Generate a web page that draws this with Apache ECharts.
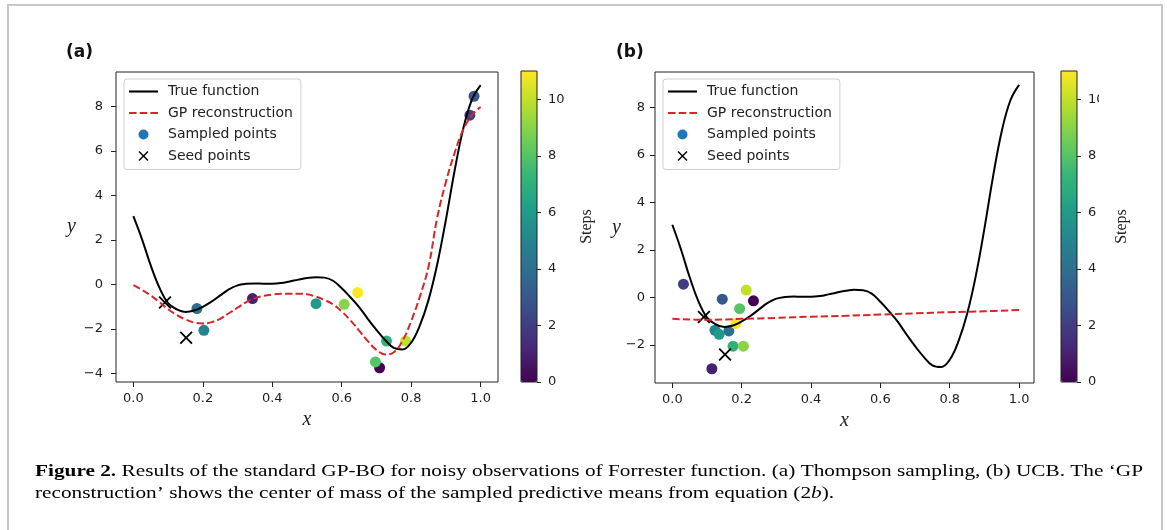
<!DOCTYPE html>
<html><head><meta charset="utf-8">
<script src="https://cdn.jsdelivr.net/npm/echarts@6/dist/echarts.min.js"></script>
<style>html,body{margin:0;padding:0;background:#fff;}#c{width:1167px;height:530px;}</style>
</head><body><div id="c"></div>
<script>
// ---------- data ----------
const xFine = [0,0.025,0.05,0.075,0.1,0.125,0.15,0.175,0.2,0.225,0.25,0.275,0.3,0.325,0.35,0.375,0.4,0.425,0.45,0.475,0.5,0.525,0.55,0.575,0.6,0.625,0.65,0.675,0.7,0.725,0.75,0.775,0.8,0.825,0.85,0.875,0.9,0.925,0.95,0.975,1.0];
const trueFn = [3.06,2.02,0.85,-0.15,-0.85,-1.13,-1.24,-1.18,-1.01,-0.78,-0.50,-0.23,-0.05,0.02,0.04,0.03,0.03,0.06,0.13,0.21,0.28,0.32,0.30,0.16,-0.18,-0.58,-1.02,-1.55,-2.05,-2.50,-2.86,-2.93,-2.62,-1.85,-0.70,0.90,2.90,5.10,7.00,8.30,8.95];
const gpA = [-0.04,-0.25,-0.50,-0.80,-1.12,-1.38,-1.58,-1.72,-1.76,-1.70,-1.55,-1.30,-1.05,-0.80,-0.63,-0.52,-0.46,-0.43,-0.42,-0.42,-0.45,-0.55,-0.70,-0.90,-1.22,-1.62,-2.08,-2.55,-2.95,-3.15,-3.05,-2.55,-1.65,-0.55,0.80,3.00,4.60,5.90,6.95,7.60,7.97];
const gpBx = [0,0.1,0.2,0.3,0.4,0.5,0.6,0.7,0.8,0.9,1.0];
const gpB = [-0.90,-0.94,-0.90,-0.86,-0.81,-0.77,-0.72,-0.67,-0.62,-0.58,-0.53];
// [x, y, step]
const sampledA = [[0.709,-3.75,0],[0.343,-0.64,1],[0.969,7.60,2],[0.981,8.45,3],[0.183,-1.09,4],[0.203,-2.07,5],[0.526,-0.87,6],[0.729,-2.55,7],[0.697,-3.49,8],[0.607,-0.90,9],[0.784,-2.55,10],[0.646,-0.37,11]];
const sampledB = [[0.234,-0.14,0],[0.114,-3.00,1],[0.032,0.56,2],[0.144,-0.07,3],[0.163,-1.41,4],[0.123,-1.38,5],[0.135,-1.55,6],[0.175,-2.05,7],[0.194,-0.47,8],[0.205,-2.05,9],[0.213,0.31,10],[0.183,-1.10,11]];
const seeds = [[0.091,-0.82],[0.152,-2.40]];
const xTicks = [0,0.2,0.4,0.6,0.8,1.0];
const yTicksA = [-4,-2,0,2,4,6,8];
const yTicksB = [-2,0,2,4,6,8];
const stepTicks = [0,2,4,6,8,10];
const stepRange = [0,11];
const viridis = ['#440154','#482878','#3e4989','#31688e','#26828e','#1f9e89','#35b779','#6ece58','#b5de2b','#fde725'];
const captionLine1 = ' Results of the standard GP-BO for noisy observations of Forrester function. (a) Thompson sampling, (b) UCB. The \u2018GP';
const captionLine2 = 'reconstruction\u2019 shows the center of mass of the sampled predictive means from equation (';

// ---------- chart ----------
const X_PATH = 'path://M10,0L50,40L90,0L100,10L60,50L100,90L90,100L50,60L10,100L0,90L40,50L0,10Z';
const LINE_ICON = 'path://M0,0H29V2.1H0Z';
const DASH_ICON = 'path://M0,0H7.6V2.1H0ZM10.7,0H18.3V2.1H10.7ZM21.4,0H29V2.1H21.4Z';
const TXT = '#1e1e1e';
const minus = v => (v < 0 ? '\u2212' + Math.abs(v) : String(v));

function xAxisCfg(gi, max){
  return {type:'value', gridIndex:gi, min:-0.05, max:max, splitLine:{show:false},
    axisLine:{show:false, onZero:false},
    axisTick:{show:true, length:5, lineStyle:{color:'#222'}, customValues:xTicks},
    axisLabel:{fontFamily:'DejaVu Sans', fontSize:13, color:TXT, margin:10, customValues:xTicks, formatter:v=>v.toFixed(1)},
    name:'x', nameLocation:'middle', nameGap:22,
    nameTextStyle:{fontFamily:'Liberation Serif', fontStyle:'italic', fontSize:20, color:'#222'}};
}
function yAxisCfg(gi, min, max, ticks, gap, margin){
  return {type:'value', gridIndex:gi, min:min, max:max, splitLine:{show:false},
    axisLine:{show:false, onZero:false},
    axisTick:{show:true, length:5, lineStyle:{color:'#222'}, customValues:ticks},
    axisLabel:{fontFamily:'DejaVu Sans', fontSize:13, color:TXT, margin:margin, customValues:ticks, formatter:minus},
    name:'y', nameLocation:'middle', nameGap:gap, nameRotate:0,
    nameTextStyle:{fontFamily:'Liberation Serif', fontStyle:'italic', fontSize:20, color:'#222'}};
}
function cbAxis(gi, gap){
  return {type:'value', gridIndex:gi, position:'right', min:stepRange[0], max:stepRange[1],
    splitLine:{show:false}, axisLine:{show:false, onZero:false},
    axisTick:{show:true, length:4, lineStyle:{color:'#222'}, customValues:stepTicks},
    axisLabel:{fontFamily:'DejaVu Sans', fontSize:13, color:TXT, margin:11, customValues:stepTicks},
    name:'Steps', nameLocation:'middle', nameGap:gap,
    nameTextStyle:{fontFamily:'Liberation Serif', fontSize:16, color:'#222'}};
}
const legendItems = [
  {name:'True function', icon:LINE_ICON, itemStyle:{color:'#000'}},
  {name:'GP reconstruction', icon:DASH_ICON, itemStyle:{color:'#d62728'}},
  {name:'Sampled points', icon:'circle', itemStyle:{color:'#1f77b4'}},
  {name:'Seed points', icon:X_PATH, itemStyle:{color:'#000'}}
];
function legendCfg(left){
  return {left:left, top:79, orient:'vertical', padding:[5,8,6,5], itemWidth:29, itemHeight:10, itemGap:6.5,
    backgroundColor:'rgba(255,255,255,0.85)', borderColor:'#cfcfcf', borderWidth:1, borderRadius:3,
    selectedMode:false, textStyle:{fontFamily:'DejaVu Sans', fontSize:14, color:'#222', lineHeight:15, padding:[0,0,0,5]},
    data:legendItems};
}
function lineSeries(name, xi, xs, ys, color, dashed){
  return {type:'line', name:name, xAxisIndex:xi, yAxisIndex:xi, data:xs.map((x,i)=>[x,ys[i]]),
    symbol:'none', showSymbol:false, smooth:0.4, z:3, silent:true,
    lineStyle:{color:color, width:2, type: dashed ? [7.4,3.2] : 'solid'}, itemStyle:{color:color}};
}
function scatterSeries(xi, pts){
  return {type:'scatter', name:'Sampled points', xAxisIndex:xi, yAxisIndex:xi, data:pts, symbolSize:11, z:2, silent:true, itemStyle:{opacity:1}};
}
function seedSeries(xi){
  return {type:'scatter', name:'Seed points', xAxisIndex:xi, yAxisIndex:xi, data:seeds, symbol:X_PATH, symbolSize:13, z:2, silent:true, itemStyle:{color:'#000', opacity:1}};
}
function cbVisual(si, left){
  return {type:'continuous', seriesIndex:si, dimension:2, min:stepRange[0], max:stepRange[1], inRange:{color:viridis},
    left:left, top:71, itemWidth:16, itemHeight:311, padding:0, calculable:false, hoverLink:false, show:true};
}

// caption fitting
const cv = document.createElement('canvas').getContext('2d');
cv.font = 'bold 16px "Liberation Serif"';
let w1 = cv.measureText('Figure 2.').width;
cv.font = '16px "Liberation Serif"';
w1 += cv.measureText(captionLine1).width;
const capScale = 1108 / w1;
const rf = {fontFamily:'Liberation Serif', fontSize:16, color:'#111'};

const option = {
  animation:false,
  backgroundColor:'#fff',
  title:[
    {text:'(a)', left:66, top:44, padding:0, textStyle:{fontFamily:'DejaVu Sans', fontWeight:'bold', fontSize:17, color:'#111'}},
    {text:'(b)', left:616, top:44, padding:0, textStyle:{fontFamily:'DejaVu Sans', fontWeight:'bold', fontSize:17, color:'#111'}}
  ],
  grid:[
    {left:116, top:72, width:382, height:310, show:true, borderColor:'#222', borderWidth:1, backgroundColor:'transparent', outerBoundsMode:'none'},
    {left:655, top:72, width:379, height:311, show:true, borderColor:'#222', borderWidth:1, backgroundColor:'transparent', outerBoundsMode:'none'},
    {left:521, top:71, width:16, height:311, show:true, borderColor:'#222', borderWidth:1, backgroundColor:'transparent', z:10, outerBoundsMode:'none'},
    {left:1061, top:71, width:16, height:311, show:true, borderColor:'#222', borderWidth:1, backgroundColor:'transparent', z:10, outerBoundsMode:'none'}
  ],
  xAxis:[xAxisCfg(0,1.05), xAxisCfg(1,1.043), {type:'value', gridIndex:2, show:false}, {type:'value', gridIndex:3, show:false}],
  yAxis:[yAxisCfg(0,-4.39,9.54,yTicksA,40,13), yAxisCfg(1,-3.6,9.49,yTicksB,32,10), cbAxis(2,42), cbAxis(3,37)],
  legend:[legendCfg(124), legendCfg(663)],
  visualMap:[cbVisual(2,521), cbVisual(6,1061)],
  series:[
    lineSeries('True function',0,xFine,trueFn,'#000',false),
    lineSeries('GP reconstruction',0,xFine,gpA,'#d62728',true),
    scatterSeries(0,sampledA),
    seedSeries(0),
    lineSeries('True function',1,xFine,trueFn,'#000',false),
    lineSeries('GP reconstruction',1,gpBx,gpB,'#d62728',true),
    scatterSeries(1,sampledB),
    seedSeries(1)
  ],
  graphic:[
    {type:'rect', shape:{x:8, y:5, width:1154, height:560}, style:{fill:'none', stroke:'#c8c8c8', lineWidth:2}, silent:true},
    // the reference figure is cropped just through the '10' label of colour bar (b)
    {type:'rect', shape:{x:1099, y:90, width:12, height:22}, style:{fill:'#fff'}, silent:true, z:100},
    {type:'text', x:35, y:461, scaleX:capScale, scaleY:1, silent:true,
      style:{text:'{b|Figure 2.}{n|'+captionLine1+'}\n{n|'+captionLine2+'}{l|2}{li|b}{n|).}',
        lineHeight:22,
        rich:{b:Object.assign({fontWeight:'bold'},rf), n:Object.assign({},rf), l:Object.assign({},rf,{color:'#1b8ad3'}), li:Object.assign({},rf,{color:'#1b8ad3', fontStyle:'italic'})}}}
  ]
};
const chart = echarts.init(document.getElementById('c'), null, {renderer:'canvas'});
chart.setOption(option);
</script></body></html>
